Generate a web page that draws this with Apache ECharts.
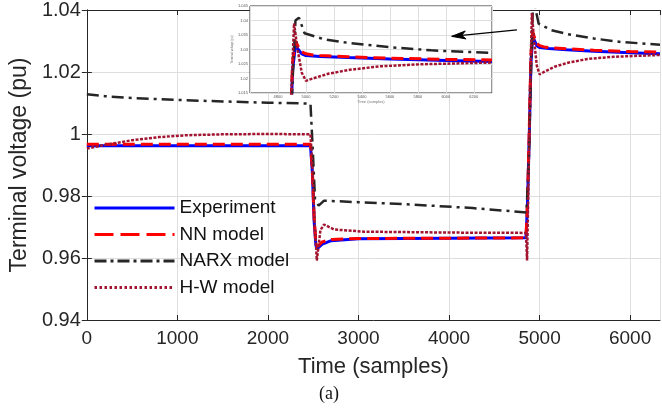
<!DOCTYPE html>
<html>
<head>
<meta charset="utf-8">
<script src="https://cdn.jsdelivr.net/npm/echarts@6/dist/echarts.min.js"></script>
<style>
html,body{margin:0;padding:0;background:#fff;}
#chart{width:662px;height:408px;}
</style>
</head>
<body>
<div id="chart"></div>
<script>
// ---- data ----
var seriesNames = ['Experiment', 'NN model', 'NARX model', 'H-W model'];

var expT = [0, 1000, 2000, 2470, 2490, 2510, 2530, 2550, 2600, 2700, 3000, 4000, 4850, 4865, 4885, 4905, 4925, 4945, 4970, 5000, 5100, 5300, 5600, 6000, 6330];
var expV = [0.9962, 0.9962, 0.9962, 0.9962, 0.9880, 0.9720, 0.9640, 0.9632, 0.9645, 0.9656, 0.9662, 0.9664, 0.9665, 0.9760, 0.9980, 1.0230, 1.0315, 1.0300, 1.0285, 1.0279, 1.0276, 1.0272, 1.0267, 1.0262, 1.0259];

var nnT = [0, 1000, 2000, 2470, 2490, 2510, 2530, 2550, 2600, 2700, 3000, 4000, 4850, 4865, 4885, 4905, 4925, 4945, 4970, 5000, 5050, 5100, 5300, 5600, 6000, 6330];
var nnV = [0.9967, 0.9967, 0.9967, 0.9967, 0.9890, 0.9730, 0.9645, 0.9638, 0.9652, 0.9660, 0.9663, 0.9664, 0.9665, 0.9770, 1.0000, 1.0260, 1.0330, 1.0310, 1.0292, 1.0285, 1.0281, 1.0279, 1.0275, 1.0270, 1.0266, 1.0264];

var narxT = [0, 200, 500, 1000, 1500, 2000, 2470, 2495, 2520, 2560, 2620, 3000, 3500, 4260, 4855, 4880, 4905, 4925, 4950, 4990, 5130, 5315, 5600, 5895, 6330];
var narxV = [1.0128, 1.0122, 1.0116, 1.0110, 1.0105, 1.0101, 1.0098, 0.9950, 0.9790, 0.9769, 0.9785, 0.9780, 0.9774, 0.9761, 0.9747, 0.9900, 1.0200, 1.0400, 1.0410, 1.0356, 1.0335, 1.0322, 1.0308, 1.0297, 1.0288];

var hwT = [0, 150, 300, 500, 800, 1100, 1500, 2000, 2470, 2490, 2515, 2540, 2580, 2620, 2730, 3060, 4000, 4850, 4862, 4875, 4895, 4915, 4940, 4970, 5000, 5055, 5165, 5315, 5530, 5820, 6330];
var hwV = [0.9953, 0.9962, 0.9970, 0.9980, 0.9990, 0.9996, 0.9999, 1.0000, 0.9999, 0.9900, 0.9720, 0.9592, 0.9690, 0.9708, 0.9692, 0.9685, 0.9682, 0.9681, 0.9592, 0.9800, 1.0150, 1.0390, 1.0300, 1.0220, 1.0192, 1.0201, 1.0217, 1.0230, 1.0242, 1.0249, 1.0255];

// axis settings
var xMin = 0, xMax = 6330, xStep = 1000;
var yMin = 0.94, yMax = 1.04, yStep = 0.02;
var insetXMin = 4600, insetXMax = 6330, insetXStep = 200;
var insetYMin = 1.015, insetYMax = 1.045, insetYStep = 0.005;

function zip(t, v) { return t.map(function (x, i) { return [x, v[i]]; }); }

var FONT = 'Liberation Sans, Arial, sans-serif';
var AX = '#262626';
var GRIDC = '#dedede';

var styles = [
  { color: '#0000ff', width: 3, type: 'solid', legendType: 'solid' },
  { color: '#ff0000', width: 3, type: [12, 6], legendType: [19, 7] },
  { color: '#262626', width: 2.5, type: [12, 5, 3, 5], legendType: [12, 4, 3, 4] },
  { color: '#a2142f', width: 2.5, type: [3, 1.5], legendType: [2.5, 2.5] }
];
var datas = [zip(expT, expV), zip(nnT, nnV), zip(narxT, narxV), zip(hwT, hwV)];

var series = [];
for (var i = 0; i < 4; i++) {
  series.push({
    name: seriesNames[i], type: 'line', xAxisIndex: 0, yAxisIndex: 0,
    data: datas[i], symbol: 'none', animation: false, clip: true, z: 2 + i * 0.01,
    lineStyle: { color: styles[i].color, width: styles[i].width, type: styles[i].type },
    itemStyle: { color: styles[i].color }
  });
}
for (var j = 0; j < 4; j++) {
  series.push({
    name: seriesNames[j], type: 'line', xAxisIndex: 2, yAxisIndex: 2,
    data: datas[j], symbol: 'none', animation: false, clip: true, z: 8,
    lineStyle: { color: styles[j].color, width: styles[j].width, type: styles[j].type },
    itemStyle: { color: styles[j].color }
  });
}

var legendData = seriesNames.map(function (n, i) {
  return { name: n, lineStyle: { color: styles[i].color, width: 3, type: styles[i].legendType },
           itemStyle: { opacity: 0, color: 'rgba(0,0,0,0)', borderWidth: 0 } };
});

function fmt(v) { return String(Math.round(v * 1000) / 1000); }

var chart = echarts.init(document.getElementById('chart'), null, { renderer: 'canvas' });
var option = {
  animation: false,
  backgroundColor: '#fff',
  textStyle: { fontFamily: FONT },
  grid: [
    { left: 80, right: 2, top: 8, bottom: 88, containLabel: false },
    { left: 250, top: 6, width: 242, height: 87, show: true, backgroundColor: '#fff',
      borderColor: '#333', borderWidth: 1, z: 5 }
  ],
  legend: {
    data: legendData, orient: 'vertical', left: 93, top: 198, padding: 0,
    itemWidth: 80, itemHeight: 14, itemGap: 6.5,
    itemStyle: { opacity: 0, color: 'rgba(0,0,0,0)', borderWidth: 0 },
    textStyle: { fontFamily: FONT, fontSize: 19, color: '#111', lineHeight: 20 },
    backgroundColor: 'transparent'
  },
  xAxis: [
    { type: 'value', gridIndex: 0, min: xMin, max: xMax, interval: xStep,
      name: 'Time (samples)', nameLocation: 'middle', nameGap: 36,
      nameTextStyle: { fontFamily: FONT, fontSize: 22, color: AX },
      axisLine: { show: true, lineStyle: { color: AX, width: 1 } },
      axisTick: { show: true, inside: true, length: 5, lineStyle: { color: AX } },
      axisLabel: { fontFamily: FONT, fontSize: 19, color: AX, margin: 9, showMaxLabel: false, formatter: fmt },
      splitLine: { show: true, lineStyle: { color: GRIDC, width: 1 } } },
    { type: 'value', gridIndex: 0, position: 'top', min: xMin, max: xMax, interval: xStep,
      axisLine: { show: true, lineStyle: { color: AX, width: 1 } },
      axisTick: { show: true, inside: true, length: 5, lineStyle: { color: AX } },
      axisLabel: { show: false }, splitLine: { show: false } },
    { type: 'value', gridIndex: 1, min: insetXMin, max: insetXMax, interval: insetXStep, z: 6,
      name: 'Time (samples)', nameLocation: 'middle', nameGap: 5,
      nameTextStyle: { fontFamily: FONT, fontSize: 4, color: '#777' },
      axisLine: { show: false }, axisTick: { show: false },
      axisLabel: { fontFamily: FONT, fontSize: 4, color: '#555', margin: 2, showMaxLabel: false, showMinLabel: false, formatter: fmt },
      splitLine: { show: true, lineStyle: { color: GRIDC, width: 1 } } }
  ],
  yAxis: [
    { type: 'value', gridIndex: 0, min: yMin, max: yMax, interval: yStep,
      name: 'Terminal voltage (pu)', nameLocation: 'middle', nameGap: 50,
      nameTextStyle: { fontFamily: FONT, fontSize: 23, color: AX },
      axisLine: { show: true, lineStyle: { color: AX, width: 1 } },
      axisTick: { show: true, inside: true, length: 5, lineStyle: { color: AX } },
      axisLabel: { fontFamily: FONT, fontSize: 20, color: AX, margin: 6, formatter: fmt },
      splitLine: { show: true, lineStyle: { color: GRIDC, width: 1 } } },
    { type: 'value', gridIndex: 0, position: 'right', min: yMin, max: yMax, interval: yStep,
      axisLine: { show: true, lineStyle: { color: AX, width: 1 } },
      axisTick: { show: true, inside: true, length: 5, lineStyle: { color: AX } },
      axisLabel: { show: false }, splitLine: { show: false } },
    { type: 'value', gridIndex: 1, min: insetYMin, max: insetYMax, interval: insetYStep, z: 6,
      name: 'Terminal voltage (pu)', nameLocation: 'middle', nameGap: 9,
      nameTextStyle: { fontFamily: FONT, fontSize: 3, color: '#777' },
      axisLine: { show: false }, axisTick: { show: false },
      axisLabel: { fontFamily: FONT, fontSize: 4, color: '#555', margin: 2, formatter: fmt },
      splitLine: { show: true, lineStyle: { color: GRIDC, width: 1 } } }
  ],
  series: series
};
chart.setOption(option);

// annotations: arrow pointing into the inset, figure caption
var tail = chart.convertToPixel({ gridIndex: 0 }, [4750, 1.0336]);
var head = chart.convertToPixel({ gridIndex: 0 }, [4030, 1.0315]);
var dx = tail[0] - head[0], dy = tail[1] - head[1];
var L = Math.sqrt(dx * dx + dy * dy); var ux = dx / L, uy = dy / L;
var hl = 14, hw = 4;
var b1 = [head[0] + ux * hl - uy * hw, head[1] + uy * hl + ux * hw];
var b2 = [head[0] + ux * hl + uy * hw, head[1] + uy * hl - ux * hw];
chart.setOption({
  graphic: [
    { type: 'line', z: 20, shape: { x1: tail[0], y1: tail[1], x2: head[0], y2: head[1] },
      style: { stroke: '#000', lineWidth: 1.2 } },
    { type: 'polygon', z: 20, shape: { points: [head, b1, [head[0] + ux * 10, head[1] + uy * 10], b2] },
      style: { fill: '#000', stroke: '#000', lineWidth: 1 } },
    { type: 'text', z: 20, x: 329, y: 394, style: { text: '(a)', fontFamily: 'Liberation Serif, Times New Roman, serif',
      fontSize: 18, fill: '#111', textAlign: 'center', textVerticalAlign: 'middle' } }
  ]
});
</script>
</body>
</html>
